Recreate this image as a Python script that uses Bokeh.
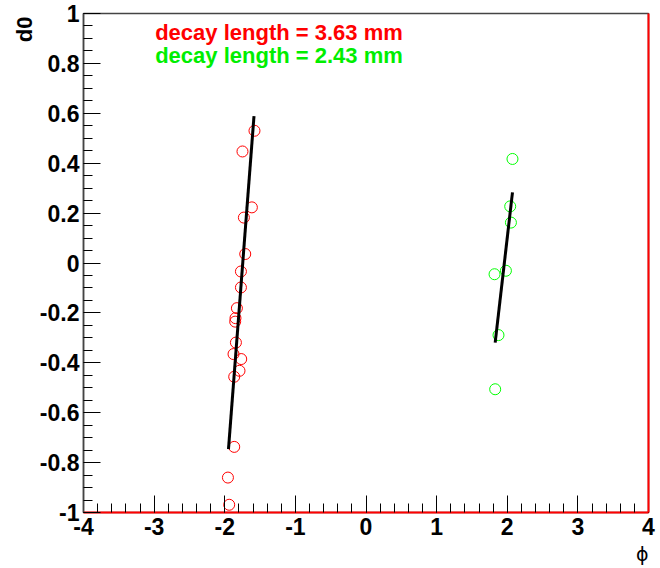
import math
from bokeh.plotting import figure
from bokeh.models import (Range1d, SingleIntervalTicker, CustomJSTickFormatter,
                          LinearAxis, Label, Title)
from bokeh.embed import file_html
from bokeh.resources import INLINE

# ---- data ----
red_phi = [-1.579, -1.749, -1.616, -1.729, -1.710, -1.771, -1.771, -1.828, -1.848,
           -1.852, -1.842, -1.876, -1.767, -1.791, -1.866, -1.866, -1.955, -1.937]
red_d0 = [0.530, 0.447, 0.223, 0.182, 0.036, -0.034, -0.098, -0.181, -0.221,
          -0.235, -0.319, -0.365, -0.385, -0.432, -0.456, -0.737, -0.860, -0.969]
green_phi = [2.074, 2.042, 2.052, 1.981, 1.820, 1.876, 1.829]
green_d0 = [0.417, 0.227, 0.162, -0.031, -0.045, -0.289, -0.506]

red_fit_phi = [-1.947, -1.586]
red_fit_d0 = [-0.746, 0.589]
green_fit_phi = [1.829, 2.074]
green_fit_d0 = [-0.319, 0.283]

red_text = "decay length = 3.63 mm"
green_text = "decay length = 2.43 mm"
y_title = "d0"
x_title = "ϕ"

FONT = "Liberation Sans"

p = figure(width=660, height=568, output_backend="svg", toolbar_location=None,
           x_range=Range1d(-4, 4), y_range=Range1d(-1, 1),
           min_border_left=83, min_border_right=12, min_border_top=13,
           min_border_bottom=56, x_axis_type=None, y_axis_type=None)
p.background_fill_color = "white"
p.border_fill_color = "white"
p.outline_line_color = "#444444"
p.outline_line_width = 1.5
p.xgrid.visible = False
p.ygrid.visible = False

fmt = CustomJSTickFormatter(code="return String(Number(tick.toFixed(2)));")

xax = LinearAxis(ticker=SingleIntervalTicker(interval=1, num_minor_ticks=5), formatter=fmt)
yax = LinearAxis(ticker=SingleIntervalTicker(interval=0.2, num_minor_ticks=4), formatter=fmt)
for ax in (xax, yax):
    ax.major_tick_in = 17
    ax.major_tick_out = 0
    ax.minor_tick_in = 9
    ax.minor_tick_out = 0
    ax.major_tick_line_color = "black"
    ax.minor_tick_line_color = "black"
    ax.major_label_text_font = FONT
    ax.major_label_text_font_style = "bold"
    ax.major_label_text_font_size = "23px"
    ax.major_label_text_color = "black"
xax.axis_line_color = "red"
xax.axis_line_width = 2
xax.major_label_standoff = 5
yax.axis_line_color = "#444444"
yax.axis_line_width = 1.5
yax.major_label_standoff = 4
p.add_layout(xax, "below")
p.add_layout(yax, "left")

rax = LinearAxis(ticker=SingleIntervalTicker(interval=1), major_tick_in=0, major_tick_out=0,
                 minor_tick_in=0, minor_tick_out=0, axis_line_color="red", axis_line_width=2,
                 major_label_text_font_size="0px")
rax.major_label_text_alpha = 0
p.add_layout(rax, "right")

p.add_layout(Title(text=y_title, align="right", text_font=FONT, text_font_style="bold",
                   text_font_size="22px", text_color="black", offset=3, standoff=0), "left")
p.add_layout(Title(text=x_title, align="right", text_font="DejaVu Sans",
                   text_font_style="normal", text_font_size="19px", text_color="black",
                   offset=0, standoff=7), "below")

p.scatter(red_phi, red_d0, marker="circle", size=11, fill_color=None,
          line_color="#ff0000", line_width=1)
p.scatter(green_phi, green_d0, marker="circle", size=11, fill_color=None,
          line_color="#00ff00", line_width=1)
p.line(red_fit_phi, red_fit_d0, line_color="black", line_width=3)
p.line(green_fit_phi, green_fit_d0, line_color="black", line_width=3)

p.add_layout(Label(x=-2.985, y=0.922, text=red_text, text_color="#ff0000",
                   text_font=FONT, text_font_style="bold", text_font_size="22px",
                   text_baseline="alphabetic", text_align="left"))
p.add_layout(Label(x=-2.985, y=0.831, text=green_text, text_color="#00ee00",
                   text_font=FONT, text_font_style="bold", text_font_size="22px",
                   text_baseline="alphabetic", text_align="left"))

open("out.html", "w").write(file_html(p, INLINE))
